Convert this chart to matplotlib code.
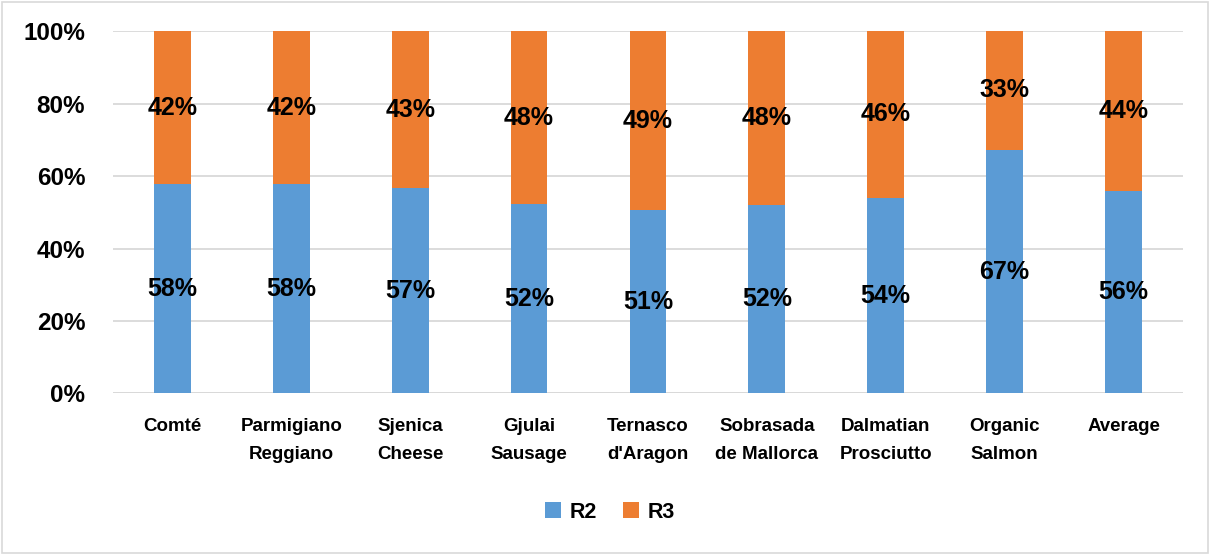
import matplotlib
matplotlib.use("Agg")
import matplotlib.pyplot as plt
from matplotlib.patches import Rectangle
import numpy as np

categories = ["Comté", "Parmigiano\nReggiano", "Sjenica\nCheese", "Gjulai\nSausage",
              "Ternasco\nd'Aragon", "Sobrasada\nde Mallorca", "Dalmatian\nProsciutto",
              "Organic\nSalmon", "Average"]
r2 = [57.7, 57.7, 56.6, 52.2, 50.6, 51.9, 54.0, 67.3, 55.9]
r3 = [42.3, 42.3, 43.4, 47.8, 49.4, 48.1, 46.0, 32.7, 44.1]
yticks = [0, 20, 40, 60, 80, 100]

FONT = ['Liberation Sans', 'DejaVu Sans']
plt.rcParams['font.family'] = FONT
plt.rcParams['font.weight'] = 'bold'

blue = '#5B9BD5'
orange = '#ED7D31'

fig = plt.figure(figsize=(12.12, 5.55), dpi=100)
ax = fig.add_axes([0.0932, 0.291, 0.976 - 0.0932, 0.944 - 0.291])

x = np.arange(len(categories))
w = 0.31
b1 = ax.bar(x, r2, width=w, color=blue, label='R2', zorder=3)
b2 = ax.bar(x, r3, width=w, bottom=r2, color=orange, label='R3', zorder=3)

for i in range(len(categories)):
    ax.text(x[i], r2[i] / 2, f"{r2[i]:.0f}%", ha='center', va='center',
            fontsize=18, fontweight='bold', color='black', zorder=4)
    ax.text(x[i], r2[i] + r3[i] / 2, f"{r3[i]:.0f}%", ha='center', va='center',
            fontsize=18, fontweight='bold', color='black', zorder=4)

ax.set_xlim(-0.5, len(categories) - 0.5)
ax.set_ylim(0, 100)
ax.set_yticks(yticks)
ax.set_yticklabels([f"{v}%" for v in yticks], fontsize=17.5, fontweight='bold')
ax.set_xticks(x)
ax.set_xticklabels(categories, fontsize=13.5, fontweight='bold', linespacing=1.8)
ax.tick_params(axis='both', length=0)
ax.tick_params(axis='x', pad=18)
ax.tick_params(axis='y', pad=20)
ax.grid(axis='y', color='#D9D9D9', linewidth=1.3, zorder=0)
for s in ax.spines.values():
    s.set_visible(False)
ax.axhline(0, color='#D9D9D9', linewidth=1.3, zorder=1)

leg = fig.legend(handles=[b1, b2], labels=['R2', 'R3'], loc='center',
                 bbox_to_anchor=(0.503, 0.077), ncol=2, frameon=False,
                 prop={'family': FONT, 'weight': 'bold', 'size': 15.5},
                 handlelength=0.75, handleheight=0.75, handletextpad=0.4,
                 columnspacing=1.2)

fig.patches.append(Rectangle((0.002, 0.003), 0.995, 0.993, transform=fig.transFigure,
                             fill=False, edgecolor='#D9D9D9', linewidth=1.2))

fig.savefig('out.png', dpi=100, facecolor='white')
